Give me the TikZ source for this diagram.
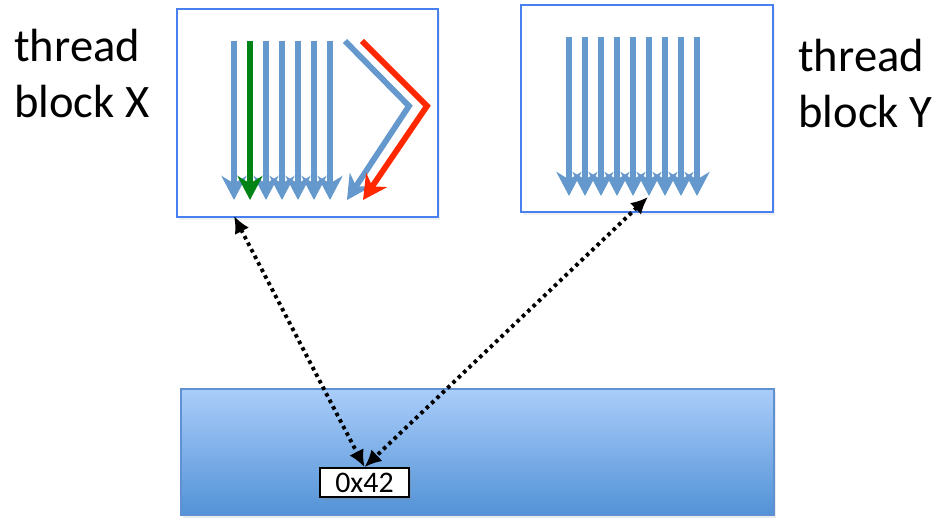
\documentclass[tikz,border=0pt]{standalone}
\usepackage{fontspec}
\setmainfont{Carlito}
\usetikzlibrary{arrows.meta, shadows, positioning}

\definecolor{blockedge}{RGB}{72,128,240}
\definecolor{threadblue}{RGB}{101,152,205}
\definecolor{threadgreen}{RGB}{0,130,20}
\definecolor{threadred}{RGB}{255,40,0}
\definecolor{memtop}{RGB}{170,205,250}
\definecolor{membottom}{RGB}{82,146,214}
\definecolor{memedge}{RGB}{95,145,210}

\tikzset{
	block/.style = {draw = blockedge, line width = 1.2pt, fill = white, inner sep = 0pt,
		drop shadow = {opacity = 0.12, shadow xshift = 1pt, shadow yshift = -1.5pt}},
	thread/.style = {line width = 3.3pt, threadblue,
		-{Stealth[length = 0.48cm, width = 0.5cm, inset = 0.15cm]}},
	access/.style = {line width = 2.2pt, dash pattern = on 2pt off 2.2pt,
		{Latex[length = 0.34cm, width = 0.32cm]}-{Latex[length = 0.34cm, width = 0.32cm]}},
	label/.style = {align = left, inner sep = 0pt, anchor = north west,
		font = \fontsize{26.5}{31.5}\selectfont},
}

\begin{document}
\begin{tikzpicture}[x = 0.02cm, y = -0.02cm]
	\useasboundingbox (0,0) rectangle (936,519);

	% the two thread blocks
	\node [block, minimum width = 5.22cm, minimum height = 4.16cm] (blockX) at (307.5,113) {};
	\node [block, minimum width = 5.04cm, minimum height = 4.14cm] (blockY) at (647,108.5) {};

	\node [label] (labelX) at (14,29) {thread\\block X};
	\node [label] (labelY) at (798,39) {thread\\block Y};

	% threads of block X
	\foreach \x in {234,266,...,330}
		\draw [thread] (\x,41) -- (\x,200);
	\foreach \x in {282,314}
		\draw [thread] (\x,41) -- (\x,200);
	\draw [thread, threadgreen] (250,41) -- (250,200);
	\draw [thread, line join = miter] (345,41) -- (409,106) -- (347,200);
	\draw [thread, threadred, line join = miter] (362,41) -- (427,106) -- (363,200);

	% threads of block Y
	\foreach \x in {569,585,...,697}
		\draw [thread] (\x,37) -- (\x,196);

	% global memory
	\node [draw = memedge, line width = 0.8pt, top color = memtop, bottom color = membottom,
		minimum width = 11.86cm, minimum height = 2.52cm, inner sep = 0pt,
		drop shadow = {opacity = 0.15, shadow xshift = 1pt, shadow yshift = -1.5pt}] (memory) at (477.5,452) {};
	\node [draw = black, line width = 1pt, fill = white, minimum width = 1.78cm, minimum height = 0.58cm,
		inner sep = 0pt, font = \fontsize{17}{20}\selectfont,
		drop shadow = {opacity = 0.25, shadow xshift = 1pt, shadow yshift = -1.5pt}] (addr) at (364.5,482.5) {0x42};

	\coordinate (readX) at (234,216);
	\coordinate (readY) at (648,197);

	\draw [access] (readX) -- (addr.north);
	\draw [access] (readY) -- (addr.north);
\end{tikzpicture}
\end{document}
